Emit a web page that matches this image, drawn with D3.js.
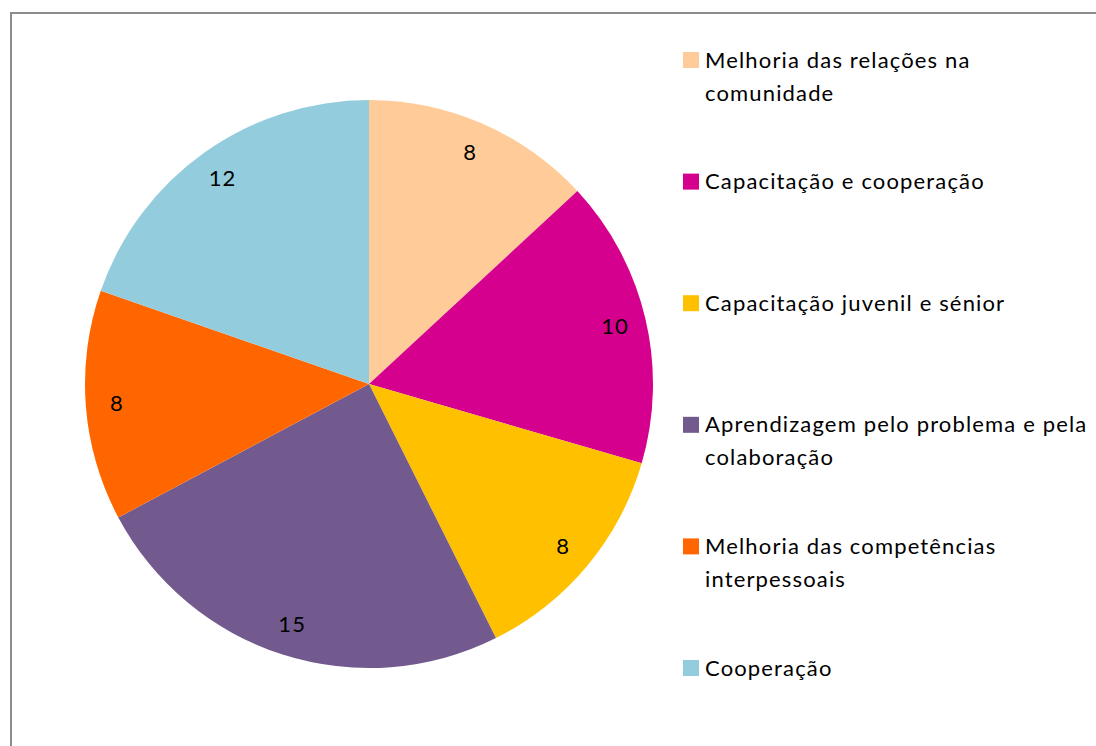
<!DOCTYPE html>
<html><head><meta charset="utf-8">
<script src="https://cdn.jsdelivr.net/npm/d3@7"></script>
<style>body{margin:0;background:#fff}svg{display:block}</style>
</head><body>
<svg id="c" width="1096" height="746"></svg>
<script>
const categories = [
  ["Melhoria das relações na", "comunidade"],
  ["Capacitação e cooperação"],
  ["Capacitação juvenil e sénior"],
  ["Aprendizagem pelo problema e pela", "colaboração"],
  ["Melhoria das competências", "interpessoais"],
  ["Cooperação"]
];
const values = [8, 10, 8, 15, 8, 12];
const colors = ["#FFCC99", "#D6008F", "#FFC000", "#725A8E", "#FF6600", "#93CCDD"];

const svg = d3.select("#c");
const font = "Lato, 'Open Sans', sans-serif";

// frame
svg.append("rect").attr("x", 11).attr("y", 13).attr("width", 1200).attr("height", 800)
  .attr("fill", "#fff").attr("stroke", "#8c8c8c").attr("stroke-width", 2);

const cx = 369, cy = 384, r = 284;
const pie = d3.pie().sort(null).value(d => d)(values);
const arc = d3.arc().innerRadius(0).outerRadius(r);
const labelArc = d3.arc().innerRadius(r * 0.89).outerRadius(r * 0.89);

const g = svg.append("g").attr("transform", `translate(${cx},${cy})`);
g.selectAll("path").data(pie).join("path")
  .attr("d", arc).attr("fill", (d, i) => colors[i]);

g.selectAll("text").data(pie).join("text")
  .attr("transform", d => `translate(${labelArc.centroid(d)})`)
  .attr("text-anchor", "middle").attr("dy", "0.35em")
  .attr("font-family", font).attr("font-size", 22).attr("letter-spacing", 1).attr("fill", "#000")
  .text(d => d.data);

// legend
const ly = d3.scalePoint().domain(d3.range(categories.length)).range([60, 668]);
const lg = svg.append("g");
categories.forEach((lines, i) => {
  const y = ly(i);
  lg.append("rect").attr("x", 683).attr("y", y - 8).attr("width", 16).attr("height", 16)
    .attr("fill", colors[i]);
  const t = lg.append("text").attr("font-family", font).attr("font-size", 22)
    .attr("letter-spacing", 1.15).attr("fill", "#000");
  lines.forEach((ln, j) => {
    t.append("tspan").attr("x", 705).attr("y", y + 7.5 + j * 33).text(ln);
  });
});
</script>
</body></html>
